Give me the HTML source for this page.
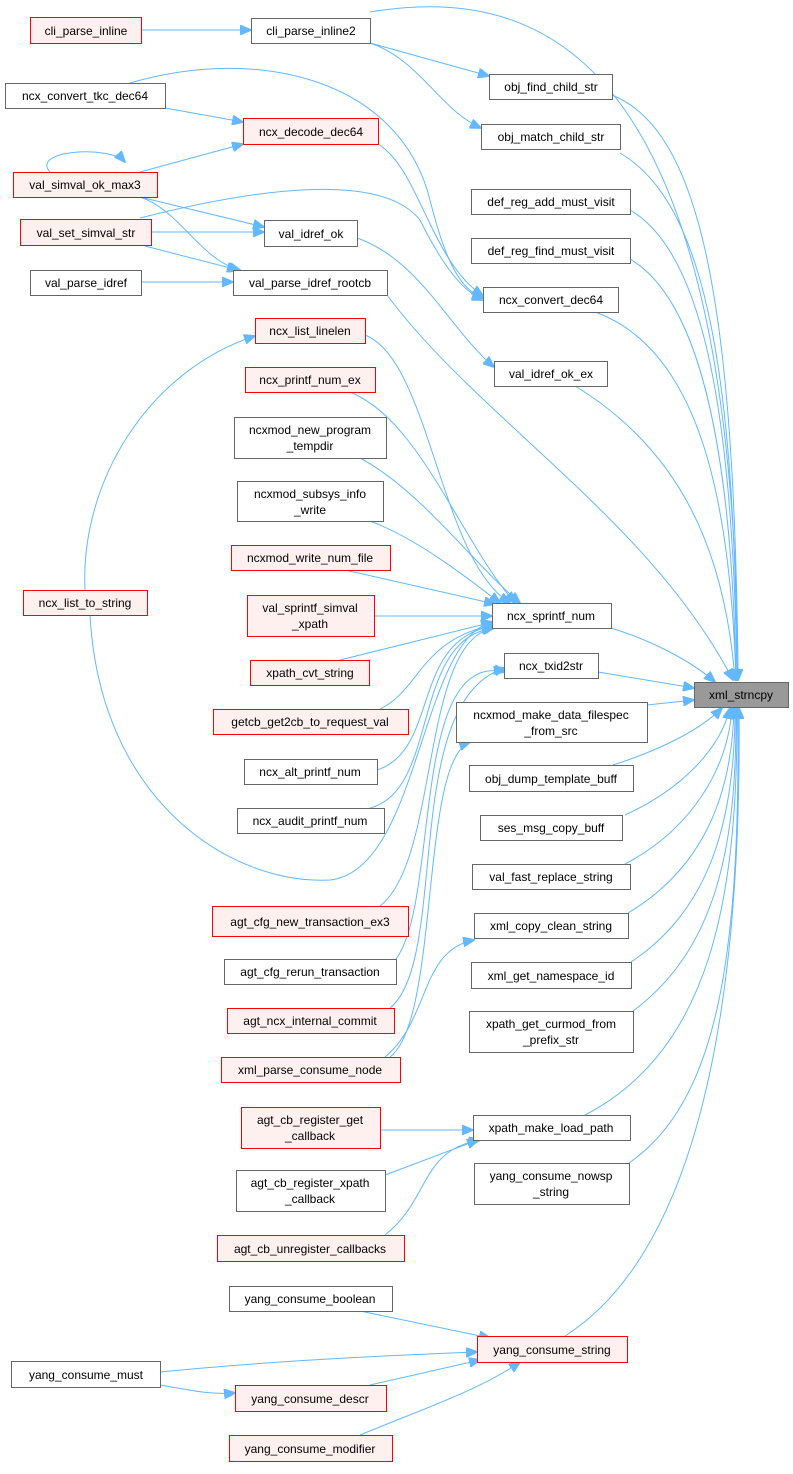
<!DOCTYPE html>
<html><head><meta charset="utf-8"><style>
body{margin:0;background:#fff}
svg text{font-family:"Liberation Sans",Arial,sans-serif;font-size:12px;fill:#000}
.n rect{fill:#fff;stroke:#666;stroke-width:1}
.r rect{fill:#fff0f0;stroke:#f00;stroke-width:1}
.e{fill:none;stroke:#63b8ff;stroke-width:1}
</style></head><body>
<svg width="793" height="1469" xmlns="http://www.w3.org/2000/svg">
<defs><marker id="a" markerWidth="12" markerHeight="10" refX="11" refY="5" orient="auto" markerUnits="userSpaceOnUse"><path d="M0,0 L12,5 L0,10 z" fill="#63b8ff" stroke="#63b8ff"/></marker></defs>
<g marker-end="url(#a)">
<path class="e" d="M370,12 C560,-20 735,80 738,680"/>
<path class="e" d="M612,95 C700,130 735,300 738,680"/>
<path class="e" d="M620,153 C700,200 735,350 737,680"/>
<path class="e" d="M630,210 C700,250 733,400 737,680"/>
<path class="e" d="M630,259 C700,300 732,450 736,680"/>
<path class="e" d="M595,312 C700,350 730,500 736,680"/>
<path class="e" d="M575,386 C680,450 725,550 735,680"/>
<path class="e" d="M387,295 C480,420 650,520 733,680"/>
<path class="e" d="M611,628 C650,640 690,660 715,682"/>
<path class="e" d="M598,672 L694,688"/>
<path class="e" d="M647,705 L694,700"/>
<path class="e" d="M613,765 C660,750 700,730 722,708"/>
<path class="e" d="M625,815 C680,790 720,750 730,708"/>
<path class="e" d="M625,864 C690,830 728,770 732,708"/>
<path class="e" d="M628,913 C700,870 732,800 734,708"/>
<path class="e" d="M631,962 C710,910 735,820 735,708"/>
<path class="e" d="M633,1011 C715,950 737,850 736,708"/>
<path class="e" d="M585,1115 C710,1050 738,900 737,708"/>
<path class="e" d="M629,1163 C720,1100 740,950 738,708"/>
<path class="e" d="M565,1336 C700,1250 742,1000 739,708"/>
<path class="e" d="M141,30 L251,30"/>
<path class="e" d="M370,43 L489,76"/>
<path class="e" d="M370,43 C420,60 440,110 481,128"/>
<path class="e" d="M165,108 L243,122"/>
<path class="e" d="M130,83 C260,45 400,80 430,200 C445,260 460,290 483,298"/>
<path class="e" d="M378,144 C420,170 430,260 483,296"/>
<path class="e" d="M140,172 L243,144"/>
<path class="e" d="M50,172 C30,150 110,145 125,162"/>
<path class="e" d="M140,197 L264,227"/>
<path class="e" d="M140,197 C180,210 200,260 240,270"/>
<path class="e" d="M151,232 L264,232"/>
<path class="e" d="M145,246 L238,270"/>
<path class="e" d="M140,218 C250,190 380,170 420,220 C440,260 460,290 483,300"/>
<path class="e" d="M141,282 L233,282"/>
<path class="e" d="M357,238 C420,260 450,330 494,367"/>
<path class="e" d="M85,590 C80,480 150,370 255,336"/>
<path class="e" d="M90,615 C100,800 230,885 330,880 C420,870 420,640 492,622"/>
<path class="e" d="M365,335 C430,360 440,560 510,603"/>
<path class="e" d="M350,392 C420,420 460,540 515,603"/>
<path class="e" d="M360,458 C420,490 470,560 520,603"/>
<path class="e" d="M370,521 C420,540 470,580 500,603"/>
<path class="e" d="M345,570 L495,604"/>
<path class="e" d="M374,616 L492,616"/>
<path class="e" d="M340,660 L493,622"/>
<path class="e" d="M380,709 C420,690 420,640 493,625"/>
<path class="e" d="M377,770 C440,750 410,640 493,626"/>
<path class="e" d="M370,808 C440,790 410,640 493,628"/>
<path class="e" d="M380,906 C440,860 420,640 494,628"/>
<path class="e" d="M396,959 C440,900 410,650 505,672"/>
<path class="e" d="M390,1008 C450,960 400,700 505,668"/>
<path class="e" d="M390,1057 C440,1020 420,760 470,742"/>
<path class="e" d="M385,1057 C430,1020 420,950 474,940"/>
<path class="e" d="M380,1130 L473,1130"/>
<path class="e" d="M385,1175 L478,1140"/>
<path class="e" d="M385,1235 C430,1200 420,1150 480,1140"/>
<path class="e" d="M360,1311 L490,1338"/>
<path class="e" d="M160,1372 C280,1360 400,1355 477,1352"/>
<path class="e" d="M160,1385 C190,1390 210,1395 235,1393"/>
<path class="e" d="M370,1385 L480,1360"/>
<path class="e" d="M360,1435 C420,1410 480,1390 520,1362"/>
</g>
<g class="n"><rect x="694.5" y="682.5" width="94" height="25" fill="#999" style="fill:#999"/><text x="741" y="699" text-anchor="middle">xml_strncpy</text></g>
<g class="r"><rect x="30.5" y="17.5" width="111" height="26"/><text x="86" y="35" text-anchor="middle">cli_parse_inline</text></g>
<g class="n"><rect x="251.5" y="18.5" width="119" height="25"/><text x="311" y="35" text-anchor="middle">cli_parse_inline2</text></g>
<g class="n"><rect x="5.5" y="83.5" width="160" height="25"/><text x="85" y="100" text-anchor="middle">ncx_convert_tkc_dec64</text></g>
<g class="r"><rect x="243.5" y="118.5" width="135" height="26"/><text x="311" y="136" text-anchor="middle">ncx_decode_dec64</text></g>
<g class="r"><rect x="13.5" y="172.5" width="144" height="25"/><text x="85" y="189" text-anchor="middle">val_simval_ok_max3</text></g>
<g class="r"><rect x="20.5" y="219.5" width="131" height="26"/><text x="86" y="237" text-anchor="middle">val_set_simval_str</text></g>
<g class="n"><rect x="264.5" y="220.5" width="93" height="26"/><text x="311" y="238" text-anchor="middle">val_idref_ok</text></g>
<g class="n"><rect x="30.5" y="270.5" width="111" height="25"/><text x="86" y="287" text-anchor="middle">val_parse_idref</text></g>
<g class="n"><rect x="233.5" y="270.5" width="154" height="25"/><text x="310" y="287" text-anchor="middle">val_parse_idref_rootcb</text></g>
<g class="n"><rect x="489.5" y="74.5" width="123" height="25"/><text x="551" y="91" text-anchor="middle">obj_find_child_str</text></g>
<g class="n"><rect x="481.5" y="124.5" width="139" height="25"/><text x="551" y="141" text-anchor="middle">obj_match_child_str</text></g>
<g class="n"><rect x="471.5" y="189.5" width="159" height="25"/><text x="551" y="206" text-anchor="middle">def_reg_add_must_visit</text></g>
<g class="n"><rect x="471.5" y="238.5" width="159" height="25"/><text x="551" y="255" text-anchor="middle">def_reg_find_must_visit</text></g>
<g class="n"><rect x="483.5" y="287.5" width="135" height="25"/><text x="551" y="304" text-anchor="middle">ncx_convert_dec64</text></g>
<g class="n"><rect x="494.5" y="361.5" width="113" height="25"/><text x="551" y="378" text-anchor="middle">val_idref_ok_ex</text></g>
<g class="r"><rect x="255.5" y="318.5" width="110" height="25"/><text x="310" y="335" text-anchor="middle">ncx_list_linelen</text></g>
<g class="r"><rect x="245.5" y="367.5" width="130" height="25"/><text x="310" y="384" text-anchor="middle">ncx_printf_num_ex</text></g>
<g class="n"><rect x="234.5" y="417.5" width="152" height="41"/><text x="310" y="434" text-anchor="middle">ncxmod_new_program</text><text x="310" y="450" text-anchor="middle">_tempdir</text></g>
<g class="n"><rect x="237.5" y="481.5" width="146" height="40"/><text x="310" y="498" text-anchor="middle">ncxmod_subsys_info</text><text x="310" y="514" text-anchor="middle">_write</text></g>
<g class="r"><rect x="231.5" y="545.5" width="159" height="25"/><text x="310" y="562" text-anchor="middle">ncxmod_write_num_file</text></g>
<g class="r"><rect x="23.5" y="590.5" width="124" height="25"/><text x="85" y="607" text-anchor="middle">ncx_list_to_string</text></g>
<g class="r"><rect x="247.5" y="595.5" width="127" height="41"/><text x="310" y="612" text-anchor="middle">val_sprintf_simval</text><text x="310" y="628" text-anchor="middle">_xpath</text></g>
<g class="r"><rect x="250.5" y="660.5" width="119" height="25"/><text x="310" y="677" text-anchor="middle">xpath_cvt_string</text></g>
<g class="r"><rect x="213.5" y="709.5" width="195" height="25"/><text x="310" y="726" text-anchor="middle">getcb_get2cb_to_request_val</text></g>
<g class="n"><rect x="244.5" y="759.5" width="133" height="25"/><text x="310" y="776" text-anchor="middle">ncx_alt_printf_num</text></g>
<g class="n"><rect x="237.5" y="808.5" width="147" height="25"/><text x="310" y="825" text-anchor="middle">ncx_audit_printf_num</text></g>
<g class="n"><rect x="492.5" y="603.5" width="119" height="25"/><text x="551" y="620" text-anchor="middle">ncx_sprintf_num</text></g>
<g class="n"><rect x="504.5" y="653.5" width="94" height="25"/><text x="551" y="670" text-anchor="middle">ncx_txid2str</text></g>
<g class="n"><rect x="456.5" y="702.5" width="191" height="40"/><text x="551" y="719" text-anchor="middle">ncxmod_make_data_filespec</text><text x="551" y="735" text-anchor="middle">_from_src</text></g>
<g class="n"><rect x="469.5" y="765.5" width="164" height="26"/><text x="551" y="783" text-anchor="middle">obj_dump_template_buff</text></g>
<g class="n"><rect x="480.5" y="815.5" width="142" height="25"/><text x="551" y="832" text-anchor="middle">ses_msg_copy_buff</text></g>
<g class="n"><rect x="472.5" y="864.5" width="158" height="25"/><text x="551" y="881" text-anchor="middle">val_fast_replace_string</text></g>
<g class="n"><rect x="474.5" y="913.5" width="154" height="25"/><text x="551" y="930" text-anchor="middle">xml_copy_clean_string</text></g>
<g class="n"><rect x="471.5" y="962.5" width="160" height="26"/><text x="551" y="980" text-anchor="middle">xml_get_namespace_id</text></g>
<g class="n"><rect x="469.5" y="1011.5" width="164" height="41"/><text x="551" y="1028" text-anchor="middle">xpath_get_curmod_from</text><text x="551" y="1044" text-anchor="middle">_prefix_str</text></g>
<g class="n"><rect x="473.5" y="1115.5" width="157" height="25"/><text x="551" y="1132" text-anchor="middle">xpath_make_load_path</text></g>
<g class="n"><rect x="474.5" y="1163.5" width="155" height="41"/><text x="551" y="1180" text-anchor="middle">yang_consume_nowsp</text><text x="551" y="1196" text-anchor="middle">_string</text></g>
<g class="r"><rect x="477.5" y="1336.5" width="150" height="26"/><text x="552" y="1354" text-anchor="middle">yang_consume_string</text></g>
<g class="r"><rect x="212.5" y="906.5" width="196" height="30"/><text x="310" y="926" text-anchor="middle">agt_cfg_new_transaction_ex3</text></g>
<g class="n"><rect x="224.5" y="959.5" width="172" height="25"/><text x="310" y="976" text-anchor="middle">agt_cfg_rerun_transaction</text></g>
<g class="r"><rect x="227.5" y="1008.5" width="167" height="25"/><text x="310" y="1025" text-anchor="middle">agt_ncx_internal_commit</text></g>
<g class="r"><rect x="221.5" y="1057.5" width="179" height="25"/><text x="310" y="1074" text-anchor="middle">xml_parse_consume_node</text></g>
<g class="r"><rect x="241.5" y="1107.5" width="139" height="41"/><text x="310" y="1124" text-anchor="middle">agt_cb_register_get</text><text x="310" y="1140" text-anchor="middle">_callback</text></g>
<g class="n"><rect x="236.5" y="1170.5" width="149" height="41"/><text x="310" y="1187" text-anchor="middle">agt_cb_register_xpath</text><text x="310" y="1203" text-anchor="middle">_callback</text></g>
<g class="r"><rect x="217.5" y="1235.5" width="187" height="26"/><text x="310" y="1253" text-anchor="middle">agt_cb_unregister_callbacks</text></g>
<g class="n"><rect x="229.5" y="1286.5" width="163" height="25"/><text x="310" y="1303" text-anchor="middle">yang_consume_boolean</text></g>
<g class="n"><rect x="11.5" y="1361.5" width="149" height="26"/><text x="86" y="1379" text-anchor="middle">yang_consume_must</text></g>
<g class="r"><rect x="235.5" y="1385.5" width="151" height="26"/><text x="310" y="1403" text-anchor="middle">yang_consume_descr</text></g>
<g class="r"><rect x="229.5" y="1435.5" width="163" height="26"/><text x="310" y="1453" text-anchor="middle">yang_consume_modifier</text></g>
</svg>
</body></html>
